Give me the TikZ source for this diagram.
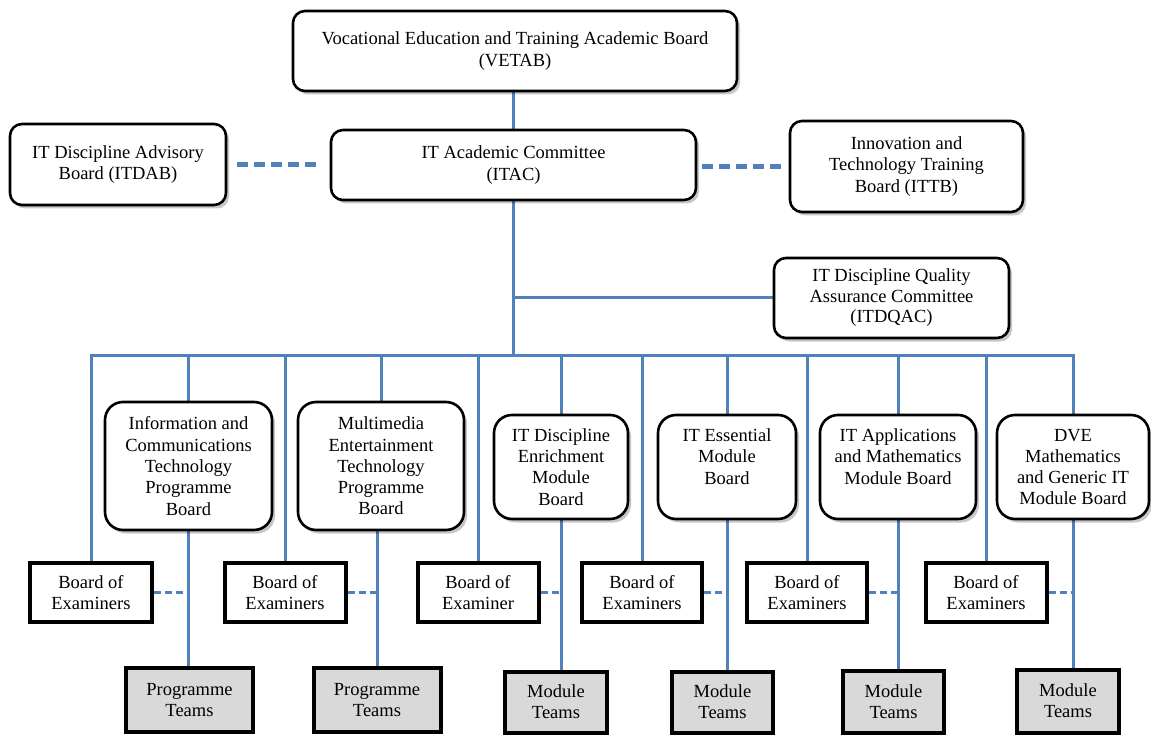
\documentclass[tikz,border=0pt]{standalone}
\usepackage{fontspec}
\setmainfont{Liberation Serif}
\usetikzlibrary{shadows}
\definecolor{lineblue}{HTML}{4F81BD}
\definecolor{teamgray}{HTML}{D9D9D9}
\pgfdeclarelayer{bg}
\pgfsetlayers{bg,main}
\begin{document}
\begin{tikzpicture}[x=1pt,y=1pt,
  font=\fontsize{18.5}{21.3}\selectfont,
  sz/.style 2 args={minimum width=#1pt, minimum height=#2pt},
  rbox/.style={draw=black, line width=2.6pt, rounded corners=12pt, fill=white, align=center, inner sep=0pt,
    drop shadow={shadow xshift=3pt, shadow yshift=-3.5pt, opacity=0.22, fill=black}},
  tbox/.style={rbox, rounded corners=18pt},
  boebox/.style={draw=black, line width=4pt, fill=white, align=center, inner sep=0pt,
    drop shadow={shadow xshift=2pt, shadow yshift=-2pt, opacity=0.15, fill=black}},
  teambox/.style={draw=black, line width=4pt, fill=teamgray, align=center, inner sep=0pt,
    drop shadow={shadow xshift=2pt, shadow yshift=-2pt, opacity=0.15, fill=black}},
  conn/.style={draw=lineblue, line width=3pt, line cap=rect},
  topdash/.style={draw=lineblue, line width=4.5pt, dash pattern=on 11pt off 6pt},
  lowdash/.style={draw=lineblue, line width=3.5pt, dash pattern=on 7pt off 4pt},
]
\useasboundingbox (0,0) rectangle (1151,-735);

% top level
\node[rbox, sz={444}{80}] (vetab) at (515,-51) {Vocational Education and Training Academic Board\\(VETAB)};
\node[rbox, sz={365}{70}] (itac) at (513.5,-165) {IT Academic Committee\\(ITAC)};
\node[rbox, sz={216}{81}] (itdab) at (118,-164.5) {IT Discipline Advisory\\Board (ITDAB)};
\node[rbox, sz={233}{91}] (ittb) at (906.5,-166.5) {Innovation and\\Technology Training\\Board (ITTB)};
\node[rbox, sz={235}{80}, font=\fontsize{18.5}{20.5}\selectfont] (itdqac) at (891.5,-298) {IT Discipline Quality\\Assurance Committee\\(ITDQAC)};
\coordinate (bus) at (513.5,-355);

% boards
\node[tbox, sz={167}{128}] (ict) at (188.5,-466) {Information and\\Communications\\Technology\\Programme\\Board};
\node[tbox, sz={166}{128}] (met) at (381,-466) {Multimedia\\Entertainment\\Technology\\Programme\\Board};
\node[tbox, sz={134}{104}] (itde) at (561,-467) {IT Discipline\\Enrichment\\Module\\Board};
\node[tbox, sz={138}{104}] (itess) at (727,-467) {IT Essential\\Module\\Board\\\mbox{}};
\node[tbox, sz={156}{104}] (itapp) at (898,-467) {IT Applications\\and Mathematics\\Module Board\\\mbox{}};
\node[tbox, sz={152}{104}] (dve) at (1073,-467) {DVE\\Mathematics\\and Generic IT\\Module Board};

% boards of examiners
\node[boebox, sz={122}{59}] (boe1) at (91,-592.5) {Board of\\Examiners};
\node[boebox, sz={121}{59}] (boe2) at (285,-592.5) {Board of\\Examiners};
\node[boebox, sz={121}{59}] (boe3) at (478,-592.5) {Board of\\Examiner};
\node[boebox, sz={120}{59}] (boe4) at (642,-592.5) {Board of\\Examiners};
\node[boebox, sz={120}{59}] (boe5) at (807,-592.5) {Board of\\Examiners};
\node[boebox, sz={121}{59}] (boe6) at (986,-592.5) {Board of\\Examiners};

% teams
\node[teambox, sz={127}{64}] (pt1) at (189.5,-700) {Programme\\Teams};
\node[teambox, sz={127}{64}] (pt2) at (377,-700) {Programme\\Teams};
\node[teambox, sz={102}{61}] (mt1) at (556,-702) {Module\\Teams};
\node[teambox, sz={101}{61}] (mt2) at (722.5,-702) {Module\\Teams};
\node[teambox, sz={101}{62}] (mt3) at (893.5,-701.5) {Module\\Teams};
\node[teambox, sz={102}{63}] (mt4) at (1068,-701) {Module\\Teams};

\begin{pgfonlayer}{bg}
  \draw[conn] (itac.north |- vetab.south) -- (itac.north);
  \draw[conn] (itac.south) -- (bus);
  \draw[conn] (itdqac.west) -- (itdqac.west -| itac.south);
  \draw[topdash, shorten <=10pt, shorten >=10pt] (itdab.east) -- (itdab.east -| itac.west);
  \draw[topdash, shorten <=5pt, shorten >=6pt] (itac.east |- ittb.west) -- (ittb.west);
  % bus
  \draw[conn] (boe1.north |- bus) -- (dve.north |- bus);
  \foreach \n in {boe1,ict,boe2,met,boe3,itde,boe4,itess,boe5,itapp,boe6,dve}
    \draw[conn] (\n.north |- bus) -- (\n.north);
  % boards to teams
  \draw[conn] (ict.south) -- (ict.south |- pt1.north);
  \draw[conn] ([xshift=-4pt]met.south) -- ([xshift=-4pt]met.south |- pt2.north);
  \draw[conn] (itde.south) -- (itde.south |- mt1.north);
  \draw[conn] (itess.south) -- (itess.south |- mt2.north);
  \draw[conn] (itapp.south) -- (itapp.south |- mt3.north);
  \draw[conn] (dve.south) -- (dve.south |- mt4.north);
  % examiners dashed
  \draw[lowdash] (boe1.east) -- (boe1.east -| ict.south);
  \draw[lowdash] (boe2.east) -- ([xshift=-4pt]boe2.east -| met.south);
  \draw[lowdash] (boe3.east) -- (boe3.east -| itde.south);
  \draw[lowdash] (boe4.east) -- (boe4.east -| itess.south);
  \draw[lowdash] (boe5.east) -- (boe5.east -| itapp.south);
  \draw[lowdash] (boe6.east) -- (boe6.east -| dve.south);
\end{pgfonlayer}
\end{tikzpicture}
\end{document}
